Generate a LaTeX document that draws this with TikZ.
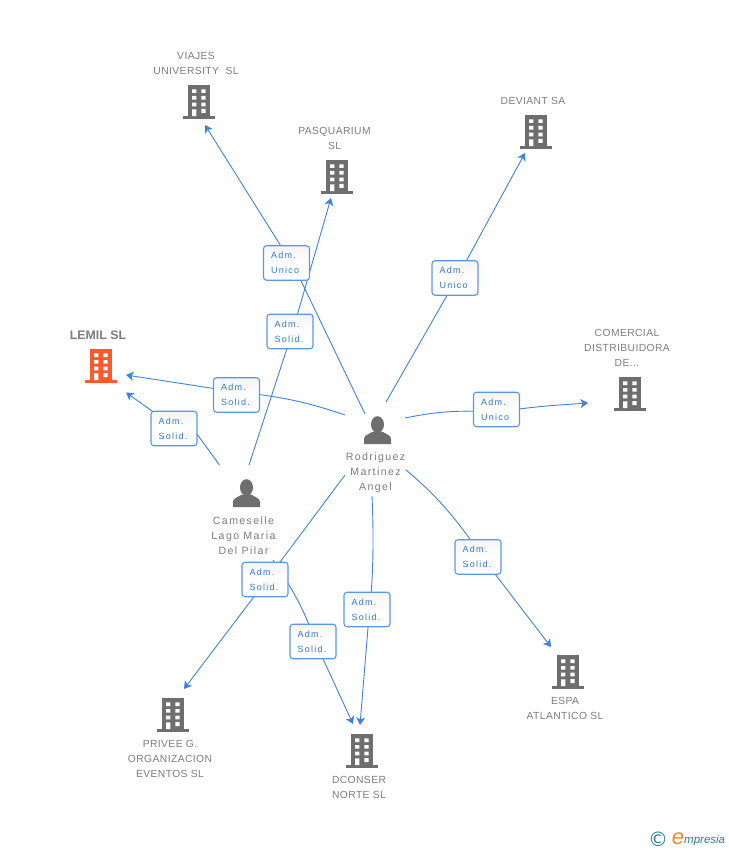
\documentclass[tikz,border=0pt]{standalone}
\usepackage{fontspec}
\setmainfont{Liberation Sans}
\newfontfamily\lblfont[LetterSpace=4]{Liberation Sans}
\newfontfamily\namefont[LetterSpace=13]{Liberation Sans}
\newfontfamily\boxfont[LetterSpace=14]{Liberation Sans}
\newfontfamily\logofont{Liberation Sans}
\newfontfamily\symfont{DejaVu Sans}
\usetikzlibrary{arrows.meta}
\pgfdeclarelayer{connectors}
\pgfsetlayers{connectors,main}
\definecolor{linkblue}{HTML}{3F82E0}
\definecolor{boxedge}{HTML}{5C97E6}
\definecolor{boxtext}{HTML}{2F78DC}
\definecolor{icongray}{HTML}{6E6E6E}
\definecolor{lblgray}{HTML}{7C7C7C}
\definecolor{lemilred}{HTML}{FC5A2C}
\definecolor{logoteal}{HTML}{2F7F96}
\definecolor{logoorange}{HTML}{F58A1F}
\tikzset{
  x=1pt,y=-1pt,
  link/.style={draw=linkblue,line width=0.9pt},
  arrowlink/.style={link,-{Stealth[length=7.5pt,width=9pt,inset=2pt]}},
  adm/.style={draw=boxedge,line width=1.1pt,rounded corners=3pt,minimum width=46pt,minimum height=34.5pt,
    inner sep=0pt,top color=gray!8,bottom color=white,middle color=white,text=boxtext,
    text width=31pt,align=left,
    font=\boxfont\fontsize{9}{15}\selectfont},
  lbl/.style={text=lblgray,align=center,inner sep=0pt,font=\lblfont\fontsize{10.3}{15}\selectfont},
  namelbl/.style={lbl,font=\namefont\fontsize{10.6}{15}\selectfont},
  building/.pic={
    \fill[pic actions] (-11,-17) rectangle (11,14.2);
    \fill[pic actions] (-16,14.2) rectangle (16,17);
    \fill[white] (-7,-12.7) rectangle (-2.7,-9) (2.3,-12.7) rectangle (6.6,-9)
      (-7,-6) rectangle (-2.7,-2.4) (2.3,-6) rectangle (6.6,-2.4)
      (-7,0.7) rectangle (-2.7,4.3) (2.3,0.7) rectangle (6.6,4.3)
      (-7,7.3) rectangle (-2.7,14.2) (2.3,7) rectangle (6.6,11);
  },
  person/.pic={
    \fill[icongray] (0,-5.5) ellipse (6.5 and 8.3);
    \fill[icongray] (-13.5,14) -- (-13.5,9) .. controls (-13.5,5) and (-9,4.5) .. (-4.5,1.5)
      -- (4.5,1.5) .. controls (9,4.5) and (13.5,5) .. (13.5,9) -- (13.5,14) -- cycle;
  }
}
\begin{document}
\begin{tikzpicture}
\useasboundingbox (0,0) rectangle (728,850);

% free ends of the connectors
\coordinate (rViajes) at (365,414);
\coordinate (rDeviant) at (386,402);
\coordinate (rComercial) at (405,418);
\coordinate (rLemil) at (345,415);
\coordinate (rPrivee) at (345,475);
\coordinate (rDconser) at (372,496);
\coordinate (rEspa) at (406,470);
\coordinate (cPasq) at (249,465);
\coordinate (cLemil) at (219.5,465);
\coordinate (cDconser) at (273,560);
\coordinate (eViajes) at (205,125);
\coordinate (ePasq) at (331,198);
\coordinate (eDeviant) at (525,153);
\coordinate (eComercial) at (588,403);
\coordinate (eLemilA) at (126,375);
\coordinate (eLemilB) at (126,392.5);
\coordinate (ePrivee) at (184,689);
\coordinate (eDconserA) at (353,724);
\coordinate (eDconserB) at (360,725);
\coordinate (eEspa) at (551,647);

% relation boxes
\node[adm] (b1) at (286.5,263) {Adm.\\Unico};
\node[adm] (b2) at (290,331.5) {Adm.\\Solid.};
\node[adm] (b3) at (455,278) {Adm.\\Unico};
\node[adm] (b4) at (496.5,409.5) {Adm.\\Unico};
\node[adm] (b5) at (236.5,395) {Adm.\\Solid.};
\node[adm] (b6) at (174,428.5) {Adm.\\Solid.};
\node[adm] (b7) at (265,579.5) {Adm.\\Solid.};
\node[adm] (b8) at (313,641.5) {Adm.\\Solid.};
\node[adm] (b9) at (367,609.5) {Adm.\\Solid.};
\node[adm] (b10) at (478,557) {Adm.\\Solid.};

% connectors, behind the boxes
\begin{pgfonlayer}{connectors}
\draw[link] (rViajes) -- ([xshift=6pt]b1.center);
\draw[arrowlink] ([xshift=5pt]b1.center) -- (eViajes);
\draw[link] (cPasq) -- ([xshift=2.5pt]b2.center);
\draw[arrowlink] ([xshift=2.5pt]b2.center) -- (ePasq);
\draw[link] (rDeviant) -- ([xshift=2pt]b3.center);
\draw[arrowlink] ([xshift=2pt]b3.center) -- (eDeviant);
\draw[link] (rComercial) .. controls (430,413) and (455,409) .. ([yshift=-3pt]b4.center);
\draw[arrowlink] ([yshift=-3pt]b4.center) .. controls (530,406.5) and (560,405) .. (eComercial);
\draw[link] (rLemil) .. controls (318,406) and (290,397) .. ([yshift=3pt]b5.center);
\draw[arrowlink] ([yshift=3pt]b5.center) -- (eLemilA);
\draw[link] (cLemil) -- ([xshift=16pt,yshift=4pt]b6.center);
\draw[arrowlink] ([yshift=2pt]b6.center) -- (eLemilB);
\draw[link] (rPrivee) -- ([xshift=2pt]b7.center);
\draw[arrowlink] ([xshift=2pt]b7.center) -- (ePrivee);
\draw[link] (cDconser) .. controls (290,585) and (305,610) .. ([xshift=2pt]b8.center);
\draw[arrowlink] ([xshift=2pt]b8.center) -- (eDconserA);
\draw[link] (rDconser) .. controls (374,540) and (373,580) .. ([xshift=2.5pt]b9.center);
\draw[arrowlink] ([xshift=2.5pt]b9.center) -- (eDconserB);
\draw[link] (rEspa) .. controls (430,490) and (455,515) .. ([xshift=4pt]b10.center);
\draw[arrowlink] ([xshift=4pt]b10.center) -- (eEspa);
\end{pgfonlayer}

% companies
\pic[fill=icongray] at (199,102) {building};
\pic[fill=icongray] at (337,177) {building};
\pic[fill=icongray] at (536,132) {building};
\pic[fill=lemilred] at (101,366) {building};
\pic[fill=icongray] at (630,394) {building};
\pic[fill=icongray] at (173,715) {building};
\pic[fill=icongray] at (362,751) {building};
\pic[fill=icongray] at (568,672) {building};

% people
\pic at (377.5,430) {person};
\pic at (246.5,493) {person};

% labels
\node[lbl] (tViajes) at (196,63.5) {VIAJES\\UNIVERSITY\ \ SL};
\node[lbl] (tPasq) at (334.5,138.5) {PASQUARIUM\\SL};
\node[lbl] (tDeviant) at (533,101) {DEVIANT SA};
\node[lbl,font=\bfseries\fontsize{12.4}{15}\selectfont] (tLemil) at (98,335) {LEMIL SL};
\node[lbl] (tComercial) at (627,348) {COMERCIAL\\DISTRIBUIDORA\\DE...};
\node[namelbl] (tRod) at (375.5,473) {Rodriguez\\Martinez\\Angel};
\node[namelbl] (tCam) at (243.5,536) {Cameselle\\Lago Maria\\Del Pilar};
\node[lbl] (tEspa) at (565,708.5) {ESPA\\ATLANTICO SL};
\node[lbl] (tPrivee) at (170,759) {PRIVEE G.\\ORGANIZACION\\EVENTOS SL};
\node[lbl] (tDconser) at (359,787.5) {DCONSER\\NORTE SL};

% logo
\node[inner sep=0pt,text=logoteal,font=\symfont\fontsize{20}{20}\selectfont] (logoC) at (658,839) {©};
\node[inner sep=0pt,text=logoorange,font=\logofont\itshape\fontsize{22}{22}\selectfont] (logoE) at (678,838.5) {e};
\node[inner sep=0pt,anchor=west,text=logoteal,font=\logofont\itshape\fontsize{11.5}{12}\selectfont] (logoT) at (684,840.5) {mpresia};
\end{tikzpicture}
\end{document}
